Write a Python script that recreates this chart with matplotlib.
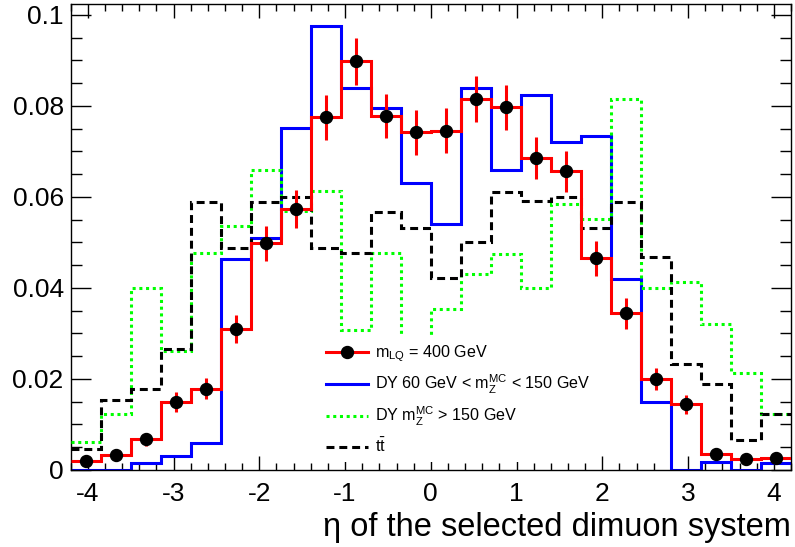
import numpy as np
import matplotlib
matplotlib.use("Agg")
import matplotlib.pyplot as plt
from matplotlib.lines import Line2D
from matplotlib.ticker import MultipleLocator

plt.rcParams['font.family'] = ['Liberation Sans', 'DejaVu Sans']
plt.rcParams['mathtext.default'] = 'regular'
plt.rcParams['axes.unicode_minus'] = False

# 24 bins of width 0.35 in eta
edges = np.linspace(-4.2, 4.2, 25)
centres = 0.5 * (edges[:-1] + edges[1:])

# leptoquark signal, m_LQ = 400 GeV
lq400 = [0.0020, 0.0033, 0.0067, 0.0149, 0.0179, 0.0310, 0.0498, 0.0574,
         0.0775, 0.0898, 0.0778, 0.0742, 0.0746, 0.0815, 0.0797, 0.0685,
         0.0656, 0.0465, 0.0344, 0.0200, 0.0144, 0.0035, 0.0024, 0.0026]
lq400_err = [0.0010, 0.0013, 0.0014, 0.0022, 0.0024, 0.0030, 0.0039, 0.0042,
             0.0049, 0.0052, 0.0049, 0.0049, 0.0049, 0.0050, 0.0050, 0.0046,
             0.0045, 0.0038, 0.0034, 0.0025, 0.0021, 0.0011, 0.0009, 0.0009]

# Drell-Yan 60 < m_Z < 150 GeV
dy_low = [0.0, 0.0, 0.0015, 0.0031, 0.0060, 0.0464, 0.0509, 0.0751,
          0.0976, 0.0840, 0.0796, 0.0631, 0.0541, 0.0840, 0.0659, 0.0824,
          0.0720, 0.0735, 0.0420, 0.0149, 0.0, 0.0017, 0.0, 0.0016]

# Drell-Yan m_Z > 150 GeV
dy_high = [0.0062, 0.0123, 0.0399, 0.0262, 0.0476, 0.0537, 0.0659, 0.0569,
           0.0614, 0.0308, 0.0476, 0.0240, 0.0353, 0.0430, 0.0475, 0.0399,
           0.0584, 0.0552, 0.0815, 0.0399, 0.0414, 0.0320, 0.0214, 0.0123]

# ttbar
ttbar = [0.0046, 0.0154, 0.0177, 0.0266, 0.0588, 0.0488, 0.0588, 0.0599,
         0.0488, 0.0476, 0.0566, 0.0531, 0.0421, 0.0500, 0.0610, 0.0590,
         0.0599, 0.0531, 0.0588, 0.0467, 0.0233, 0.0189, 0.0066, 0.0123]

fig = plt.figure(figsize=(7.95, 5.47), dpi=100)
ax = fig.add_axes([0.0888, 0.1408, 0.9062, 0.8519])

lw = 2.2
ax.stairs(dy_low, edges, color='#0000ff', lw=lw, baseline=None, zorder=2)
ax.stairs(dy_high, edges, color='#00ff00', lw=lw, baseline=None,
          linestyle=(0, (1, 1.2)), zorder=3)
ax.stairs(ttbar, edges, color='black', lw=lw, baseline=None,
          linestyle=(0, (2.6, 1.6)), zorder=4)
ax.stairs(lq400, edges, color='#ff0000', lw=lw, baseline=None, zorder=5)
ax.errorbar(centres, lq400, yerr=lq400_err, fmt='o', color='black',
            ecolor='#ff0000', elinewidth=lw, capsize=0, markersize=8.6,
            zorder=6)

ax.set_xlim(-4.2, 4.2)
ax.set_ylim(0, 0.1024)

ax.xaxis.set_major_locator(MultipleLocator(1))
ax.xaxis.set_minor_locator(MultipleLocator(0.2))
ax.yaxis.set_major_locator(MultipleLocator(0.02))
ax.yaxis.set_minor_locator(MultipleLocator(0.005))
ax.set_yticks([0, 0.02, 0.04, 0.06, 0.08, 0.1])
ax.set_yticklabels(['0', '0.02', '0.04', '0.06', '0.08', '0.1'])

ax.tick_params(axis='both', which='both', direction='in', top=True,
               right=True, width=1.0, labelsize=19)
ax.tick_params(axis='x', which='major', length=10, pad=9)
ax.tick_params(axis='x', which='minor', length=5)
ax.tick_params(axis='y', which='major', length=14.5, pad=5)
ax.tick_params(axis='y', which='minor', length=7.7)
for sp in ax.spines.values():
    sp.set_linewidth(1.0)

ax.set_xlabel('η of the selected dimuon system', fontsize=23.5, loc='right',
              labelpad=4)

handles = [
    Line2D([], [], color='#ff0000', lw=lw, marker='o', markersize=8.6,
           markerfacecolor='black', markeredgecolor='black'),
    Line2D([], [], color='#0000ff', lw=lw),
    Line2D([], [], color='#00ff00', lw=lw, linestyle=(0, (1, 1.2))),
    Line2D([], [], color='black', lw=lw, linestyle=(0, (2.6, 1.6))),
]
labels = [
    r'$m_{LQ}$ = 400 GeV',
    r'DY 60 GeV < $m_{Z}^{MC}$ < 150 GeV',
    r'DY $m_{Z}^{MC}$ > 150 GeV',
    r'$t\bar{t}$',
]
leg = ax.legend(handles, labels, loc='upper left',
                bbox_to_anchor=(0.346, 0.285), fontsize=11.6,
                handlelength=2.6, handletextpad=0.45, labelspacing=0.55,
                borderpad=0.4, borderaxespad=0, frameon=True, fancybox=False)
leg.get_frame().set_facecolor('white')
leg.get_frame().set_edgecolor('none')
leg.get_frame().set_alpha(1.0)
leg.set_zorder(10)

fig.savefig('out.png', dpi=100)
